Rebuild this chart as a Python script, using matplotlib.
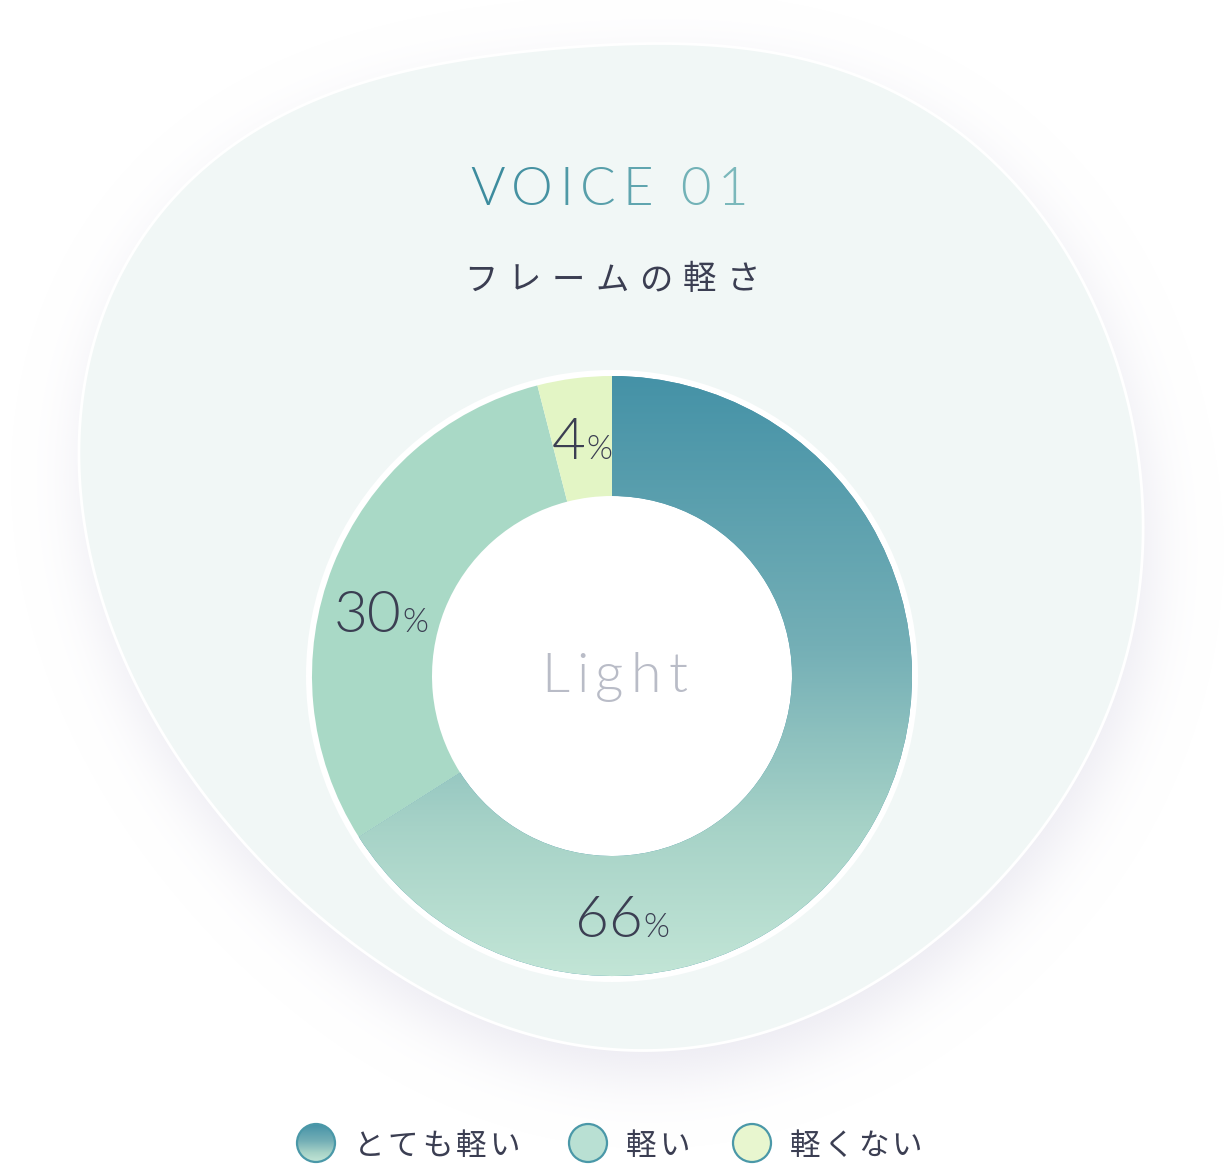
import matplotlib
matplotlib.use('Agg')
import matplotlib.pyplot as plt
import numpy as np
from matplotlib.colors import LinearSegmentedColormap, to_rgb
from matplotlib.font_manager import FontProperties
from matplotlib.patches import Circle, Polygon
from matplotlib.path import Path

# chart data
labels = ['とても軽い', '軽い', '軽くない']
shares = [66, 30, 4]
slice_colors = ['#4592a7', '#a9d9c6', '#e3f5c5']
legend_fill = ['#4592a7', '#b9e0d3', '#e8f6cf']
title = 'VOICE 01'
subtitle = 'フレームの軽さ'
center_word = 'Light'

W, H = 1224, 1176
TEXT = '#3b3e52'
LATIN = ['Lato', 'DejaVu Sans']
JP = ['Noto Sans CJK JP', 'DejaVu Sans']

fig = plt.figure(figsize=(W / 100, H / 100), dpi=100)
fig.patch.set_facecolor('white')
ax = fig.add_axes([0, 0, 1, 1])
renderer = fig.canvas.get_renderer()

grad_cmap = LinearSegmentedColormap.from_list(
    'voice', [(0, '#4592a7'), (0.45, '#74afb6'), (0.75, '#a6d2c7'), (1, '#c2e5d6')])
title_cmap = LinearSegmentedColormap.from_list('title', ['#3d8c9e', '#7bb8bb'])


def smooth_blob(pts, center, order=5, n=720):
    # least-squares Fourier fit of the outline radius -> smooth closed shape
    P = np.asarray(pts, float) - center
    ang = np.arctan2(P[:, 1], P[:, 0])
    rad = np.hypot(P[:, 0], P[:, 1])

    def basis(a):
        cols = [np.ones_like(a)]
        for k in range(1, order + 1):
            cols += [np.cos(k * a), np.sin(k * a)]
        return np.column_stack(cols)

    coef, *_ = np.linalg.lstsq(basis(ang), rad, rcond=None)
    a = np.linspace(-np.pi, np.pi, n, endpoint=False)
    r = basis(a) @ coef
    return np.column_stack([center[0] + r * np.cos(a), center[1] + r * np.sin(a)])


def text_w(s, fp):
    return renderer.get_text_width_height_descent(s, fp, ismath=False)[0]


def tracked(x, y, s, fp, span, colors=TEXT, va='baseline', z=6):
    # letter-spaced text centred on x, stretched to the given width
    base = text_w('II', fp)
    adv = [text_w('I' + c + 'I', fp) - base for c in s]
    track = (span - sum(adv)) / (len(s) - 1)
    cur = x - span / 2
    if isinstance(colors, str):
        colors = [colors] * len(s)
    for c, a, col in zip(s, adv, colors):
        ax.text(cur + a / 2, y, c, fontproperties=fp, color=col, ha='center', va=va, zorder=z)
        cur += a + track


# background blob with soft shadow
blob_pts = [(624, 41), (760, 52), (898, 98), (1023, 188), (1093, 300), (1130, 410),
            (1141, 525), (1132, 620), (1109, 717), (1062, 800), (985, 898), (868, 983),
            (753, 1033), (620, 1054), (505, 1030), (406, 975), (330, 920), (258, 863),
            (168, 750), (105, 600), (85, 510), (82, 420), (98, 320), (140, 230),
            (234, 150), (351, 90), (480, 55)]
blob = smooth_blob(blob_pts, (612, 540))

step = 2
gx, gy = np.meshgrid(np.arange(0, W, step) + step / 2, np.arange(0, H, step) + step / 2)
shadow_path = Path(blob + np.array([6, 24]))
mask = shadow_path.contains_points(np.column_stack([gx.ravel(), gy.ravel()])).reshape(gx.shape).astype(float)
sig = 15
k = np.exp(-0.5 * (np.arange(-3 * sig, 3 * sig + 1) / sig) ** 2)
k /= k.sum()
mask = np.apply_along_axis(lambda r: np.convolve(r, k, mode='same'), 1, mask)
mask = np.apply_along_axis(lambda c: np.convolve(c, k, mode='same'), 0, mask)
shadow = np.zeros(mask.shape + (4,))
shadow[..., :3] = to_rgb('#e6e4ee')
shadow[..., 3] = mask * 0.8
ax.imshow(shadow, extent=(0, W, H, 0), origin='upper', interpolation='bilinear', zorder=1)

ax.add_patch(Polygon(blob, closed=True, fc='#f1f7f6', ec='white', lw=2, zorder=2))

# titles
title_colors = [title_cmap(i / (len(title) - 1)) for i in range(len(title))]
tracked(609, 205, title, FontProperties(family=LATIN, weight=300, size=38), span=278, colors=title_colors)
tracked(612, 276, subtitle, FontProperties(family=JP, size=24), span=296, va='center_baseline')

# donut
cx, cy, R, ring = 612, 676, 300, 120
ax.add_patch(Circle((cx, cy), R + 6, fc='white', ec='none', zorder=3))
wedges, _ = ax.pie(shares, colors=slice_colors, radius=R, center=(cx, cy),
                   startangle=-90, counterclock=True,
                   wedgeprops=dict(width=ring, linewidth=0))
for w in wedges:
    w.set_zorder(4)

grad = np.linspace(0, 1, 400)[:, None] * np.ones((1, 2))
img = ax.imshow(grad, cmap=grad_cmap, extent=(cx - R, cx + R, cy + R, cy - R),
                origin='upper', aspect='auto', interpolation='bilinear', zorder=4.5)
img.set_clip_path(wedges[0])

# percentage labels
label_angle = [177.6, 285.7, 352.8]
num_fp = FontProperties(family=LATIN, weight=300, size=42)
pct_fp = FontProperties(family=LATIN, weight=300, size=24)
for v, a in zip(shares, label_angle):
    th = np.deg2rad(a)
    lx = cx + 240 * np.sin(th)
    ly = cy - 240 * np.cos(th)
    s = str(v)
    wn, wp = text_w(s, num_fp), text_w('%', pct_fp)
    x0 = lx - (wn + wp) / 2
    ax.text(x0, ly + 21, s, fontproperties=num_fp, color=TEXT, ha='left', va='baseline', zorder=6)
    ax.text(x0 + wn, ly + 21, '%', fontproperties=pct_fp, color=TEXT, ha='left', va='baseline', zorder=6)

tracked(614, 692, center_word, FontProperties(family=LATIN, weight=300, size=40), span=146, colors='#b9bcc7')

# legend
leg_x = [316, 588, 752]
leg_y = 1143
leg_fp = FontProperties(family=JP, size=22)
for i, (lab, x) in enumerate(zip(labels, leg_x)):
    circ = Circle((x, leg_y), 19, fc=legend_fill[i], ec='none', zorder=5)
    ax.add_patch(circ)
    if i == 0:
        gi = ax.imshow(grad, cmap=grad_cmap, extent=(x - 19, x + 19, leg_y + 19, leg_y - 19),
                       origin='upper', aspect='auto', interpolation='bilinear', zorder=5.5)
        gi.set_clip_path(circ)
    ax.add_patch(Circle((x, leg_y), 19, fc='none', ec='#4a98a8', lw=1.6, zorder=6))
    span = 34 * (len(lab) - 1) + 30
    tracked(x + 38 + span / 2, leg_y, lab, leg_fp, span=span, va='center_baseline')

ax.set_xlim(0, W)
ax.set_ylim(H, 0)
ax.set_aspect('equal')
ax.axis('off')
fig.savefig('out.png', dpi=100, facecolor='white')
